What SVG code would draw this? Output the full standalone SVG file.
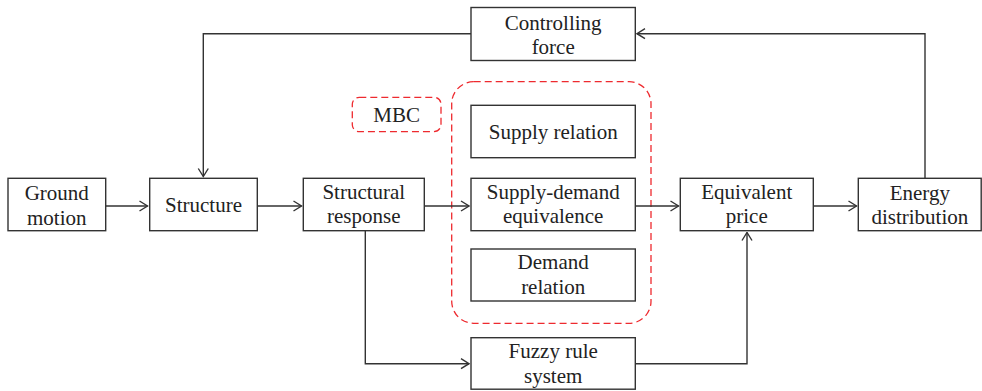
<svg xmlns="http://www.w3.org/2000/svg" width="982" height="391" viewBox="0 0 982 391">
<defs>
<style>
.box{fill:#fff;stroke:#333;stroke-width:1.4}
.t{font-size:21px;fill:#222;text-anchor:middle}
.c{fill:none;stroke:#333;stroke-width:1.4}
.red{fill:none;stroke:#ee2a2f;stroke-width:1.3;stroke-dasharray:7 4}
</style>
<marker id="ar" viewBox="0 0 10 12" refX="9" refY="6" markerWidth="10" markerHeight="12" markerUnits="userSpaceOnUse" orient="auto">
<path d="M1,1 L9,6 L1,11" fill="none" stroke="#333" stroke-width="1.4"/>
</marker>
</defs>
<rect width="982" height="391" fill="#fff"/>
<g font-family="Liberation Serif, Times New Roman, serif">
<g id="mbc-region">
<rect class="red" x="451.7" y="81.7" width="199.3" height="241.6" rx="22" ry="22"/>
</g>
<g id="mbc-label">
<rect class="red" x="352.3" y="97.3" width="88.7" height="34.4" rx="7" ry="7"/>
<text class="t" x="396.7" y="122">MBC</text>
</g>
<g id="connectors">
<path class="c" d="M105.7,206 H147.5" marker-end="url(#ar)"/>
<path class="c" d="M257.3,206 H301.5" marker-end="url(#ar)"/>
<path class="c" d="M424.3,206 H469" marker-end="url(#ar)"/>
<path class="c" d="M635.3,206 H678.5" marker-end="url(#ar)"/>
<path class="c" d="M813.3,206 H856.5" marker-end="url(#ar)"/>
<path class="c" d="M925,178.3 V33.7 H637" marker-end="url(#ar)"/>
<path class="c" d="M471,33.7 H203.3 V176.5" marker-end="url(#ar)"/>
<path class="c" d="M365.3,230.7 V363.7 H469" marker-end="url(#ar)"/>
<path class="c" d="M635.3,363.7 H747 V232.5" marker-end="url(#ar)"/>
</g>
<g id="controlling-force">
<rect class="box" x="471" y="7.5" width="164.3" height="53"/>
<text class="t" x="553.2" y="29.5">Controlling</text>
<text class="t" x="553.2" y="53.5">force</text>
</g>
<g id="ground-motion">
<rect class="box" x="8" y="178.3" width="97.7" height="52.4"/>
<text class="t" x="56.8" y="200">Ground</text>
<text class="t" x="56.8" y="225">motion</text>
</g>
<g id="structure">
<rect class="box" x="149.7" y="178.3" width="107.6" height="52.4"/>
<text class="t" x="203.5" y="212">Structure</text>
</g>
<g id="structural-response">
<rect class="box" x="303.3" y="178.3" width="121" height="52.4"/>
<text class="t" x="363.8" y="198.5">Structural</text>
<text class="t" x="363.8" y="223">response</text>
</g>
<g id="supply-relation">
<rect class="box" x="471" y="105.3" width="164.3" height="52.4"/>
<text class="t" x="553.2" y="138.5">Supply relation</text>
</g>
<g id="supply-demand-equivalence">
<rect class="box" x="471" y="178.3" width="164.3" height="52.4"/>
<text class="t" x="553.2" y="198.5">Supply-demand</text>
<text class="t" x="553.2" y="223">equivalence</text>
</g>
<g id="demand-relation">
<rect class="box" x="471" y="249" width="164.3" height="52"/>
<text class="t" x="553.2" y="269">Demand</text>
<text class="t" x="553.2" y="294">relation</text>
</g>
<g id="fuzzy-rule-system">
<rect class="box" x="471" y="337.7" width="164.3" height="51.5"/>
<text class="t" x="553.2" y="358">Fuzzy rule</text>
<text class="t" x="553.2" y="383">system</text>
</g>
<g id="equivalent-price">
<rect class="box" x="680.3" y="178.3" width="133" height="52.4"/>
<text class="t" x="746.8" y="198.5">Equivalent</text>
<text class="t" x="746.8" y="223">price</text>
</g>
<g id="energy-distribution">
<rect class="box" x="858.3" y="178.3" width="122.9" height="52.4"/>
<text class="t" x="919.8" y="200">Energy</text>
<text class="t" x="919.8" y="224">distribution</text>
</g>
</g>
</svg>
